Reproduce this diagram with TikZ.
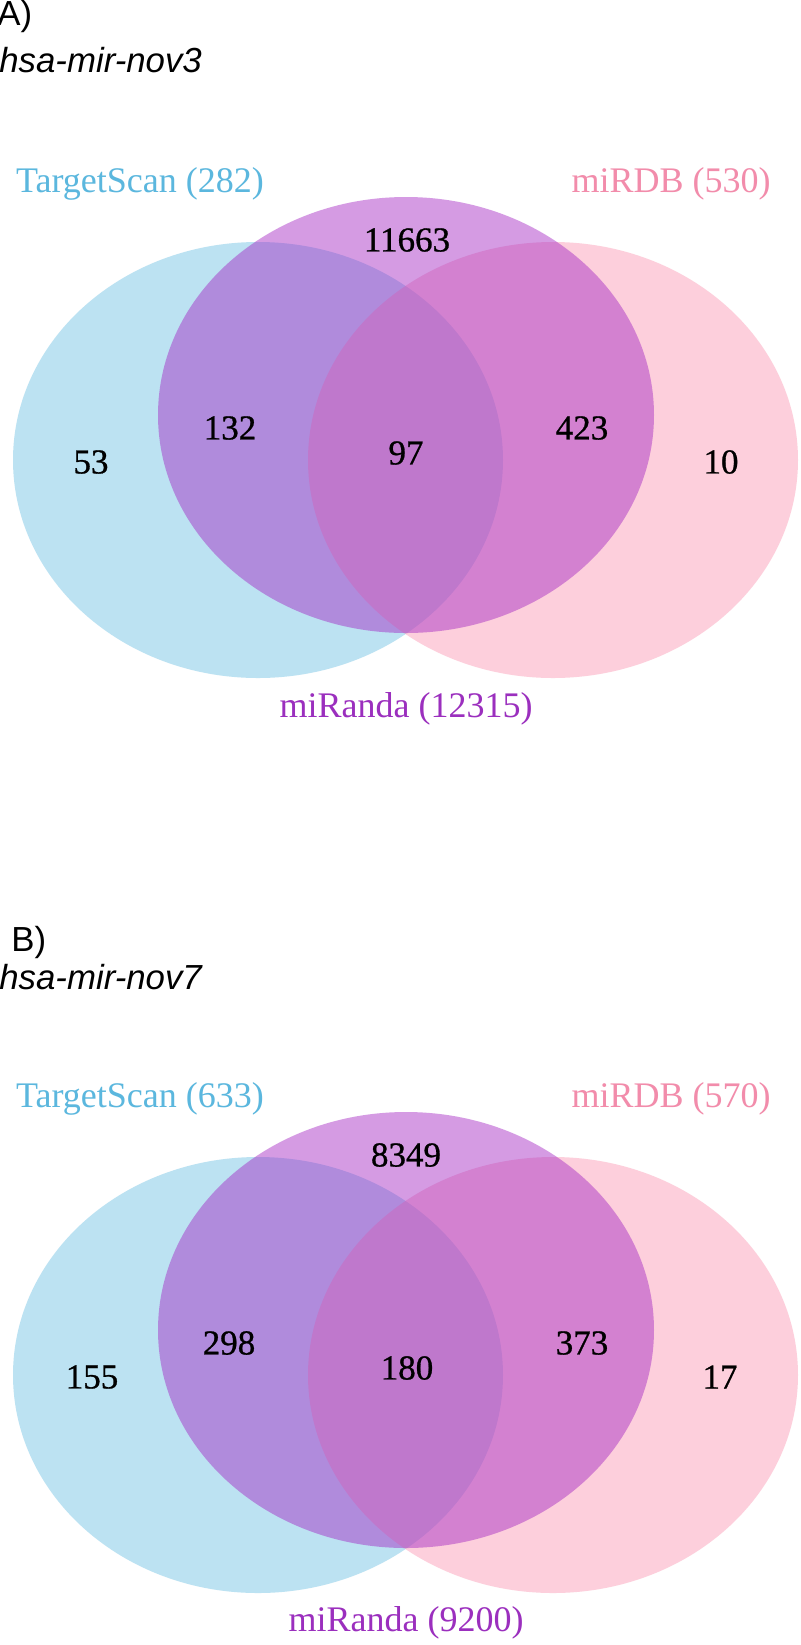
\documentclass[tikz,border=0pt]{standalone}
\usepackage{fontspec}
\setmainfont{Liberation Serif}
\newfontfamily\arialfont{Liberation Sans}
\newfontfamily\countfont[FakeBold=0.8]{Liberation Serif}
\definecolor{tsfill}{HTML}{BCE2F2}
\definecolor{rdbfill}{HTML}{FB92AE}
\definecolor{randafill}{HTML}{A223C3}
\definecolor{tstext}{HTML}{5BB7DE}
\definecolor{rdbtext}{HTML}{F28CAB}
\definecolor{randatext}{HTML}{9B2FBE}
\tikzset{
  setlabel/.style={inner sep=0pt, font=\fontsize{18}{20}\selectfont},
  countlabel/.style={inner sep=0pt, font=\countfont\fontsize{17.5}{19}\selectfont, text=black},
  panellabel/.style={inner sep=0pt, anchor=west, font=\arialfont\fontsize{17.4}{19}\selectfont},
  tsset/.style={fill=tsfill},
  rdbset/.style={fill=rdbfill, fill opacity=0.43},
  randaset/.style={fill=randafill, fill opacity=0.45},
}
\begin{document}
\begin{tikzpicture}[x=0.5pt,y=-0.5pt]
\useasboundingbox (0,0) rectangle (800,1645);
\fill[white] (0,0) rectangle (800,1645);
% ---------- Panel A ----------
\fill[tsset] (258,460) ellipse [x radius=122.5pt, y radius=109pt];
\fill[rdbset] (553,460) ellipse [x radius=122.5pt, y radius=109pt];
\fill[randaset] (406,415) ellipse [x radius=124pt, y radius=109pt];
\node[panellabel] (pA) at (-3,16) {A)};
\node[panellabel] (nameA) at (-1,60) {\itshape hsa-mir-nov3};
\node[setlabel, text=tstext] (tsA) at (140,184) {TargetScan (282)};
\node[setlabel, text=rdbtext] (rdbA) at (671,184) {miRDB (530)};
\node[setlabel, text=randatext] (randaA) at (406,709) {miRanda (12315)};
\node[countlabel] (cA1) at (407,240) {11663};
\node[countlabel] (cA2) at (230,428) {132};
\node[countlabel] (cA3) at (406,453) {97};
\node[countlabel] (cA4) at (582,428) {423};
\node[countlabel] (cA5) at (91,462) {53};
\node[countlabel] (cA6) at (721,462) {10};
% ---------- Panel B ----------
\fill[tsset] (258,1375) ellipse [x radius=122.5pt, y radius=109pt];
\fill[rdbset] (553,1375) ellipse [x radius=122.5pt, y radius=109pt];
\fill[randaset] (406,1330) ellipse [x radius=124pt, y radius=109pt];
\node[panellabel] (pB) at (11,942) {B)};
\node[panellabel] (nameB) at (-1,977) {\itshape hsa-mir-nov7};
\node[setlabel, text=tstext] (tsB) at (140,1099) {TargetScan (633)};
\node[setlabel, text=rdbtext] (rdbB) at (671,1099) {miRDB (570)};
\node[setlabel, text=randatext] (randaB) at (406,1623) {miRanda (9200)};
\node[countlabel] (cB1) at (406,1155) {8349};
\node[countlabel] (cB2) at (229,1343) {298};
\node[countlabel] (cB3) at (407,1368) {180};
\node[countlabel] (cB4) at (582,1343) {373};
\node[countlabel] (cB5) at (92,1377) {155};
\node[countlabel] (cB6) at (720,1377) {17};
\end{tikzpicture}
\end{document}
